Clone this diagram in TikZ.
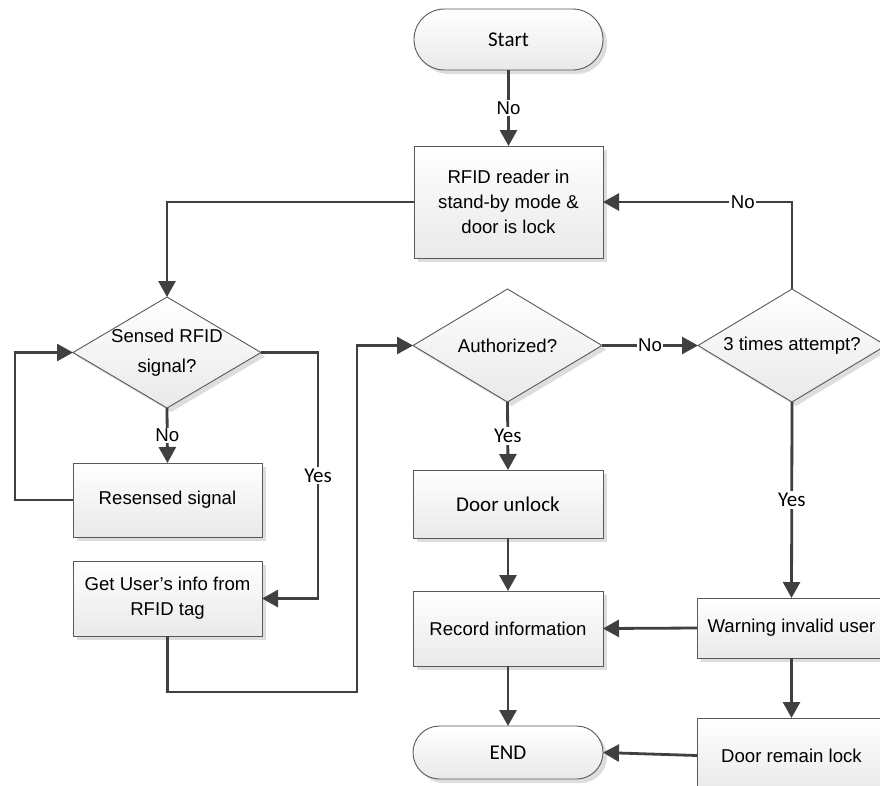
\documentclass[tikz,border=0pt]{standalone}
\usepackage{fontspec}
\setmainfont{Liberation Sans}
\newfontfamily\calfont{Carlito}
\usetikzlibrary{shapes.geometric,shapes.misc,shadows,arrows.meta}
\definecolor{bordc}{HTML}{595959}
\definecolor{linec}{HTML}{404040}
\definecolor{shadc}{HTML}{DDDDDD}
\definecolor{botc}{HTML}{E9E9E9}
\tikzset{
  base/.style={draw=bordc, line width=0.9pt, top color=white, bottom color=botc,
    drop shadow={shadow xshift=4pt, shadow yshift=-4pt, fill=shadc, opacity=1},
    font=\fontsize{18.6}{25}\selectfont, align=center, inner sep=0pt, outer sep=0pt},
  proc/.style={base, rectangle, minimum width=189pt},
  term/.style={base, rounded rectangle, minimum width=189pt, font=\calfont\fontsize{21}{25}\selectfont},
  dia/.style={base, diamond, minimum width=188pt, minimum height=112pt},
  dtext/.style={align=center, font=\fontsize{18.6}{30}\selectfont, inner sep=0pt},
  conn/.style={draw=linec, line width=2.8pt, -{Triangle[length=16pt,width=17pt]}},
  lblno/.style={fill=white, inner sep=1.5pt, font=\fontsize{18.6}{22}\selectfont},
  lblyes/.style={fill=white, inner sep=2pt, font=\calfont\fontsize{21}{24}\selectfont},
}
\begin{document}
\begin{tikzpicture}[x=1pt,y=-1pt]
\useasboundingbox (0,0) rectangle (880,785);
\clip (0,0) rectangle (880,785);
\fill[white] (0,0) rectangle (880,785);

\node[term, minimum height=61pt] (start) at (508.5,39.5) {Start};
\node[proc, minimum height=112pt] (rfid) at (508.5,202) {RFID reader in\\stand-by mode \&\\door is lock};
\node[dia, minimum width=188pt, minimum height=111pt] (sensed) at (167,352.5) {};
\node[dtext] (sensedt) at (sensed) {Sensed RFID\\signal?};
\node[proc, minimum height=74pt] (resensed) at (167.5,500) {Resensed signal};
\node[proc, minimum height=75pt] (getinfo) at (167.5,598.5) {Get User’s info from\\RFID tag};
\node[dia, minimum width=189pt, minimum height=113pt] (auth) at (507.5,345.5) {};
\node[dtext] (autht) at (auth) {Authorized?};
\node[dia, minimum width=188pt, minimum height=113pt] (three) at (792,345.5) {};
\node[dtext] (threet) at (three) {3 times attempt?};
\node[proc, minimum width=190pt, minimum height=68pt, font=\calfont\fontsize{21}{25}\selectfont] (unlock) at (508,504) {Door unlock};
\node[proc, minimum width=190pt, minimum height=75pt] (record) at (508,628.5) {Record information};
\node[term, minimum width=190pt, minimum height=53pt] (endn) at (508,752.5) {END};
\node[proc, minimum height=60pt] (warning) at (791.5,628) {Warning invalid user};
\node[proc, minimum height=75pt] (remain) at (791.5,755.5) {Door remain lock};

\draw[conn] (start.south) -- node[lblno]{No} (rfid.north);
\draw[conn] (rfid.west) -| (sensed.north);
\draw[conn] (sensed.south) -- node[lblno]{No} (resensed.north);
\draw[conn] (resensed.west) -- ++(-58,0) |- (sensed.west);
\draw[conn] (sensed.east) -- ++(57,0) coordinate (k1) -- node[lblyes]{Yes} (k1 |- getinfo.east) -- (getinfo.east);
\coordinate (k2) at (357,692);
\draw[conn] (getinfo.south) |- (k2) |- (auth.west);
\draw[conn] (auth.east) -- node[lblno]{No} (three.west);
\draw[conn] (three.north) |- node[lblno, pos=0.63]{No} (rfid.east);
\draw[conn] (three.south) -- node[lblyes]{Yes} (warning.north);
\draw[conn] (auth.south) -- node[lblyes]{Yes} (unlock.north);
\draw[conn] (unlock.south) -- (record.north);
\draw[conn] (record.south) -- (endn.north);
\draw[conn] (warning.west) -- (record.east);
\draw[conn] (warning.south) -- (remain.north);
\draw[conn] (remain.west) -- (endn.east);
\end{tikzpicture}
\end{document}
